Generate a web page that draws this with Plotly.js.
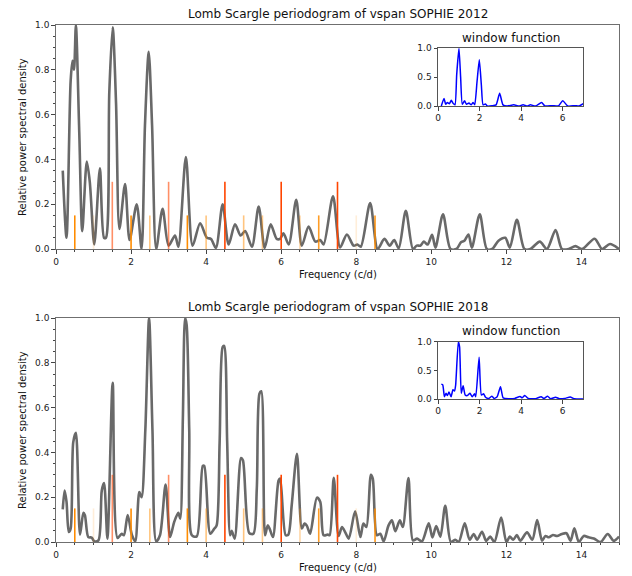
<!DOCTYPE html>
<html><head><meta charset="utf-8">
<script src="https://cdn.plot.ly/plotly-3.0.1.min.js"></script>
<style>html,body{margin:0;padding:0;background:#fff}#chart{width:632px;height:576px}</style>
</head><body><div id="chart"></div>
<script>
// ---- 2012 periodogram ----
const freq2012 = [0.18,0.28,0.39,0.44,0.48,0.53,0.62,0.70,0.82,0.90,1.02,1.17,1.28,1.33,1.42,1.51,1.60,1.69,1.84,1.96,2.15,2.28,2.37,2.47,2.56,2.67,2.84,3.0,3.17,3.26,3.46,3.64,3.84,4.02,4.13,4.26,4.44,4.60,4.77,4.92,5.04,5.22,5.40,5.56,5.72,5.88,5.97,6.06,6.20,6.40,6.55,6.73,6.91,7.04,7.13,7.38,7.57,7.75,7.93,8.03,8.12,8.37,8.57,8.75,8.89,9.01,9.13,9.32,9.51,9.61,9.71,9.80,9.90,10.02,10.11,10.31,10.51,10.67,10.79,10.88,10.99,11.08,11.29,11.48,11.62,11.79,11.97,12.09,12.28,12.48,12.64,12.89,13.08,13.31,13.48,13.66,13.84,14.02,14.35,14.55,14.76,15.0];
const power2012 = [0.35,0.05,0.75,0.84,0.80,1.0,0.52,0.08,0.39,0.30,0.02,0.36,0.05,0.05,0.70,0.99,0.65,0.09,0.29,0.04,0.20,0.0,0.55,0.88,0.55,0.0,0.18,0.015,0.06,0.01,0.41,0.015,0.115,0.05,0.045,0.005,0.20,0.02,0.11,0.06,0.08,0.01,0.19,0.005,0.11,0.045,0.045,0.07,0.02,0.22,0.015,0.10,0.033,0.04,0.02,0.235,0.007,0.065,0.015,0.02,0.01,0.205,0.0,0.045,0.015,0.04,0.003,0.17,0.0,0.015,0.015,0.033,0.02,0.063,0.006,0.155,0.0,0.0,0.03,0.037,0.065,0.006,0.155,0.0,0.0,0.037,0.05,0.006,0.13,0.0,0.0,0.033,0.0,0.085,0.0,0.0,0.013,0.0,0.046,0.0,0.022,0.0];

// ---- 2018 periodogram ----
const freq2018 = [0.18,0.23,0.28,0.34,0.39,0.46,0.53,0.64,0.73,0.77,0.86,0.95,1.02,1.13,1.22,1.28,1.37,1.51,1.64,1.75,1.81,1.91,2.02,2.11,2.22,2.28,2.38,2.48,2.57,2.67,2.77,2.92,3.04,3.15,3.26,3.31,3.38,3.44,3.48,3.55,3.62,3.75,3.91,3.95,4.11,4.22,4.28,4.36,4.44,4.48,4.56,4.64,4.68,4.76,4.93,4.98,5.15,5.26,5.35,5.42,5.47,5.57,5.64,5.69,5.78,5.93,5.97,6.12,6.19,6.28,6.42,6.55,6.62,6.68,6.77,6.95,7.04,7.13,7.24,7.29,7.40,7.53,7.62,7.71,7.80,7.97,8.11,8.19,8.27,8.39,8.44,8.55,8.64,8.73,8.86,8.95,9.04,9.16,9.24,9.39,9.51,9.62,9.75,9.93,10.03,10.13,10.24,10.37,10.52,10.64,10.73,10.89,11.02,11.13,11.22,11.35,11.46,11.57,11.68,11.86,12.0,12.09,12.18,12.28,12.37,12.55,12.69,12.82,12.95,13.04,13.13,13.24,13.35,13.48,13.6,13.71,13.81,13.93,14.06,14.19,14.33,14.51,14.70,14.86,15.0];
const power2018 = [0.146,0.23,0.18,0.045,0.06,0.446,0.487,0.033,0.13,0.12,0.022,0.02,0.003,0.007,0.23,0.263,0.015,0.711,0.018,0.037,0.03,0.12,0.033,0.003,0.223,0.20,0.5,1.0,0.5,0.003,0.03,0.257,0.022,0.09,0.13,0.104,0.55,1.0,0.97,0.5,0.03,0.025,0.34,0.34,0.037,0.06,0.074,0.45,0.87,0.875,0.45,0.03,0.05,0.015,0.375,0.365,0.04,0.037,0.238,0.662,0.673,0.03,0.074,0.06,0.022,0.275,0.283,0.03,0.033,0.164,0.394,0.06,0.082,0.074,0.037,0.198,0.18,0.03,0.033,0.03,0.287,0.027,0.067,0.042,0.015,0.137,0.022,0.082,0.067,0.30,0.283,0.03,0.037,0.003,0.074,0.097,0.048,0.097,0.067,0.286,0.007,0.015,0.003,0.083,0.02,0.071,0.024,0.162,0.0,0.01,0.0,0.083,0.01,0.036,0.01,0.046,0.005,0.024,0.0,0.109,0.0,0.024,0.01,0.031,0.006,0.043,0.01,0.098,0.006,0.027,0.021,0.031,0.027,0.036,0.039,0.006,0.061,0.0,0.027,0.021,0.016,0.0,0.036,0.005,0.024];

// ---- window functions ----
const winFreq2012 = [0.16,0.29,0.37,0.45,0.55,0.64,0.72,0.82,0.90,1.01,1.09,1.17,1.28,1.37,1.49,1.6,1.69,1.77,1.88,1.99,2.09,2.17,2.29,2.37,2.61,2.8,2.97,3.13,3.33,3.65,3.9,4.1,4.3,4.45,4.7,4.99,5.15,5.5,5.8,6.01,6.25,6.6,6.8,7.0];
const winPow2012  = [0,0.13,0.03,0.06,0.04,0.10,0.05,0.02,0.54,1.0,0.5,0.03,0.09,0.03,0.05,0.02,0.06,0.02,0.42,0.80,0.36,0.02,0.035,0,0.005,0.02,0.22,0.02,0,0.02,0,0.02,0,0.02,0,0.06,0,0.005,0,0.09,0,0.005,0,0.04];
const winFreq2018 = [0.16,0.23,0.31,0.39,0.45,0.53,0.63,0.72,0.80,0.85,0.98,1.04,1.12,1.21,1.31,1.41,1.54,1.65,1.76,1.82,1.98,2.09,2.2,2.29,2.45,2.6,2.7,2.85,3.01,3.14,3.4,3.7,3.95,4.05,4.18,4.35,4.7,4.97,5.1,5.28,5.42,5.66,5.85,6.1,6.37,6.55,7.0];
const winPow2018  = [0.26,0.245,0.04,0.10,0.06,0.12,0.04,0.16,0.14,0.24,1.0,0.91,0.10,0.23,0.07,0.06,0.10,0.04,0.09,0.04,0.73,0.07,0.09,0.03,0.01,0.05,0.01,0.04,0.215,0.02,0.005,0.01,0.045,0.02,0.06,0.01,0.005,0.04,0.01,0.05,0.005,0.03,0.005,0.01,0.035,0.005,0.0];

// ---- reference frequency markers ----
const markFreq  = [0.5,1.0,1.5,2.0,2.5,3.0,3.5,4.0,4.5,5.0,5.5,6.0,6.5,7.0,7.5,8.0,8.5];
const markTop   = [0.15,0.15,0.3,0.15,0.15,0.3,0.15,0.15,0.3,0.15,0.15,0.3,0.15,0.15,0.3,0.15,0.15];
const markColor = ['rgba(255,140,0,1)','rgba(255,140,0,0.15)','rgba(255,69,0,0.6)','rgba(255,140,0,1)','rgba(255,140,0,0.5)','rgba(255,69,0,0.6)','rgba(255,140,0,1)','rgba(255,140,0,0.5)','rgba(255,69,0,1)','rgba(255,140,0,0.5)','rgba(255,140,0,0.45)','rgba(255,69,0,1)','rgba(255,140,0,0.35)','rgba(255,140,0,0.85)','rgba(255,69,0,1)','rgba(255,140,0,0.15)','rgba(255,140,0,0.9)'];

const W = 632, H = 576;
const px = v => v / W, py = v => 1 - v / H;
const FONT = 'DejaVu Sans, Liberation Sans, sans-serif';

const curveLine = {color:'#696969', width:2.6, shape:'spline', smoothing:0.8};
const winLine = {color:'#0000ff', width:1.5, shape:'spline', smoothing:0.5};

const traces = [
  {x:freq2012, y:power2012, xaxis:'x', yaxis:'y', mode:'lines', line:curveLine, hoverinfo:'skip'},
  {x:freq2018, y:power2018, xaxis:'x2', yaxis:'y2', mode:'lines', line:curveLine, hoverinfo:'skip'},
  {x:winFreq2012, y:winPow2012, xaxis:'x3', yaxis:'y3', mode:'lines', line:winLine, hoverinfo:'skip'},
  {x:winFreq2018, y:winPow2018, xaxis:'x4', yaxis:'y4', mode:'lines', line:winLine, hoverinfo:'skip'}
];

const shapes = [];
['', '2'].forEach(s => {
  markFreq.forEach((f, i) => {
    shapes.push({type:'line', xref:'x'+s, yref:'y'+s, x0:f, x1:f, y0:0, y1:markTop[i],
      line:{color:markColor[i], width:1.6}, layer:'above'});
  });
});

const tickFont = {family:FONT, size:9, color:'#222'};
function mainX(dom, anchor){
  return {domain:dom, anchor:anchor, range:[0,15], dtick:2, tick0:0, showgrid:false, zeroline:false,
    showline:true, mirror:true, linecolor:'#6f6f6f', linewidth:1.3, ticks:'outside', ticklen:3.5,
    tickwidth:1, tickcolor:'#444', tickfont:tickFont,
    minor:{dtick:0.5, tick0:0, ticks:'outside', ticklen:2, tickcolor:'#444', showgrid:false}};
}
function mainY(dom, anchor){
  return {domain:dom, anchor:anchor, range:[0,1], dtick:0.2, tick0:0, tickformat:'.1f', showgrid:false,
    zeroline:false, showline:true, mirror:true, linecolor:'#6f6f6f', linewidth:1.3, ticks:'outside',
    ticklen:3.5, tickwidth:1, tickcolor:'#444', tickfont:tickFont,
    minor:{dtick:0.05, tick0:0, ticks:'outside', ticklen:2, tickcolor:'#444', showgrid:false}};
}
function insetX(dom, anchor){
  return {domain:dom, anchor:anchor, range:[0,7], tickvals:[0,2,4,6], ticktext:['0','2','4','6'],
    showgrid:false, zeroline:false, showline:true, mirror:true, linecolor:'#555', linewidth:1,
    ticks:'outside', ticklen:3.5, tickcolor:'#444', tickfont:tickFont};
}
function insetY(dom, anchor){
  return {domain:dom, anchor:anchor, range:[0,1], tickvals:[0,0.5,1], ticktext:['0.0','0.5','1.0'],
    showgrid:false, zeroline:false, showline:true, mirror:true, linecolor:'#555', linewidth:1,
    ticks:'outside', ticklen:3.5, tickcolor:'#444', tickfont:tickFont};
}

const xDom = [px(56), px(619)];
const inX = [px(438), px(583.3)];
const ann = (text, x, y, size, rot) => ({text:text, xref:'paper', yref:'paper', x:x, y:y,
  xanchor:'center', yanchor:'middle', showarrow:false, textangle:rot||0,
  font:{family:FONT, size:size, color:'#111'}});

const layout = {
  width:W, height:H, margin:{l:0, r:0, t:0, b:0}, paper_bgcolor:'#fff', plot_bgcolor:'#fff',
  showlegend:false,
  xaxis: mainX(xDom, 'y'), yaxis: mainY([py(249), py(25)], 'x'),
  xaxis2: mainX(xDom, 'y2'), yaxis2: mainY([py(542), py(318)], 'x2'),
  xaxis3: insetX(inX, 'y3'), yaxis3: insetY([py(106), py(48.3)], 'x3'),
  xaxis4: insetX(inX, 'y4'), yaxis4: insetY([py(399), py(341.7)], 'x4'),
  shapes: shapes,
  annotations: [
    ann('Lomb Scargle periodogram of vspan SOPHIE 2012', px(337.5), py(14), 12),
    ann('Lomb Scargle periodogram of vspan SOPHIE 2018', px(337.5), py(307), 12),
    ann('Frequency (c/d)', px(337.5), py(274), 10),
    ann('Frequency (c/d)', px(337.5), py(567), 10),
    ann('Relative power spectral density', px(22), py(137), 10, -90),
    ann('Relative power spectral density', px(22), py(430), 10, -90),
    ann('window function', px(510.7), py(37.7), 12),
    ann('window function', px(510.7), py(330.7), 12)
  ]
};

Plotly.newPlot('chart', traces, layout, {staticPlot:true, displayModeBar:false});
</script>
</body></html>
